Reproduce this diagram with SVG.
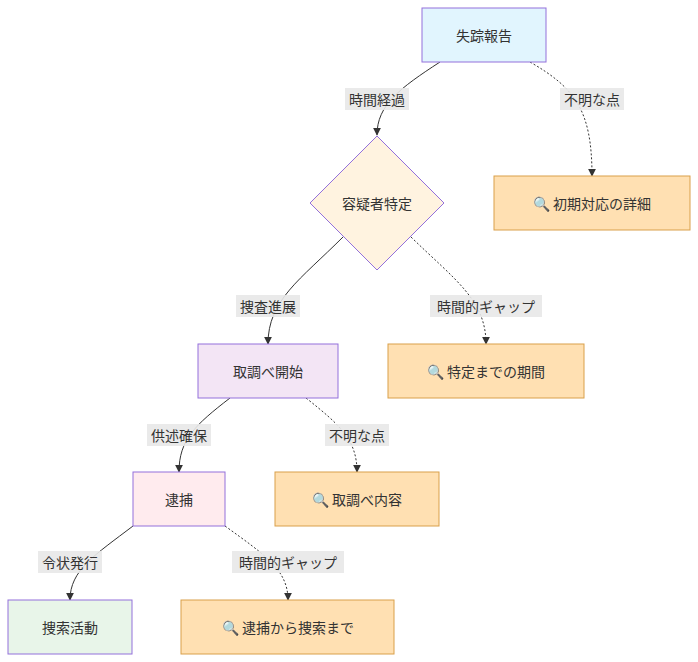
<svg xmlns="http://www.w3.org/2000/svg" width="698" height="662" viewBox="0 0 698 662">
<defs>
<marker id="ah" viewBox="0 0 10 10" refX="9" refY="5" markerWidth="8" markerHeight="8" orient="auto"><path d="M0,0L10,5L0,10z" fill="#333"/></marker>
<style>
text{font-family:"Noto Sans CJK JP","Liberation Sans",sans-serif;font-size:14px;fill:#333;text-anchor:middle;dominant-baseline:central}
.n{stroke:#9370db;stroke-width:1}
.d{fill:#ffe0b2;stroke:#d9a04a;stroke-width:1}
.e{fill:none;stroke:#333;stroke-width:1;marker-end:url(#ah)}
.dot{stroke-dasharray:2,2}
.lb{fill:#e8e8e8;opacity:0.9}
</style>
</defs>
<g id="edges">
<path class="e" d="M440,62 C400,88 377,105 377,135"/>
<path class="e dot" d="M530,62 C575,88 592,110 592,176"/>
<path class="e" d="M343,237 C300,280 268,300 268,344"/>
<path class="e dot" d="M411,237 C455,280 486,300 486,344"/>
<path class="e" d="M230,398 C195,425 179,440 179,472"/>
<path class="e dot" d="M306,398 C340,425 357,440 357,472"/>
<path class="e" d="M133,526 C95,555 70,570 70,600"/>
<path class="e dot" d="M225,526 C265,555 288,570 288,600"/>
<rect class="lb" x="345" y="88" width="64" height="22"/><text x="377" y="99">時間経過</text>
<rect class="lb" x="560" y="88" width="64" height="22"/><text x="592" y="99">不明な点</text>
<rect class="lb" x="236" y="295" width="64" height="22"/><text x="268" y="306">捜査進展</text>
<rect class="lb" x="430" y="295" width="112" height="22"/><text x="486" y="306">時間的ギャップ</text>
<rect class="lb" x="147" y="424" width="64" height="22"/><text x="179" y="435">供述確保</text>
<rect class="lb" x="325" y="424" width="64" height="22"/><text x="357" y="435">不明な点</text>
<rect class="lb" x="38" y="551" width="64" height="22"/><text x="70" y="562">令状発行</text>
<rect class="lb" x="232" y="551" width="112" height="22"/><text x="288" y="562">時間的ギャップ</text>
</g>
<g id="n1"><rect class="n" x="422" y="8" width="124" height="54" fill="#e1f5fe"/><text x="484" y="35">失踪報告</text></g>
<g id="n2"><rect class="d" x="494" y="176" width="196" height="54"/><text x="592" y="203">🔍 初期対応の詳細</text></g>
<g id="n3"><polygon class="n" points="377,136 444,203 377,270 310,203" fill="#fff3e0"/><text x="377" y="203">容疑者特定</text></g>
<g id="n4"><rect class="d" x="388" y="344" width="196" height="54"/><text x="486" y="371">🔍 特定までの期間</text></g>
<g id="n5"><rect class="n" x="198" y="344" width="140" height="54" fill="#f3e5f5"/><text x="268" y="371">取調べ開始</text></g>
<g id="n6"><rect class="d" x="275" y="472" width="164" height="54"/><text x="357" y="499">🔍 取調べ内容</text></g>
<g id="n7"><rect class="n" x="133" y="472" width="92" height="54" fill="#ffebee"/><text x="179" y="499">逮捕</text></g>
<g id="n8"><rect class="n" x="8" y="600" width="124" height="54" fill="#e8f5e9"/><text x="70" y="627">捜索活動</text></g>
<g id="n9"><rect class="d" x="181" y="600" width="213" height="54"/><text x="288" y="627">🔍 逮捕から捜索まで</text></g>
</svg>
